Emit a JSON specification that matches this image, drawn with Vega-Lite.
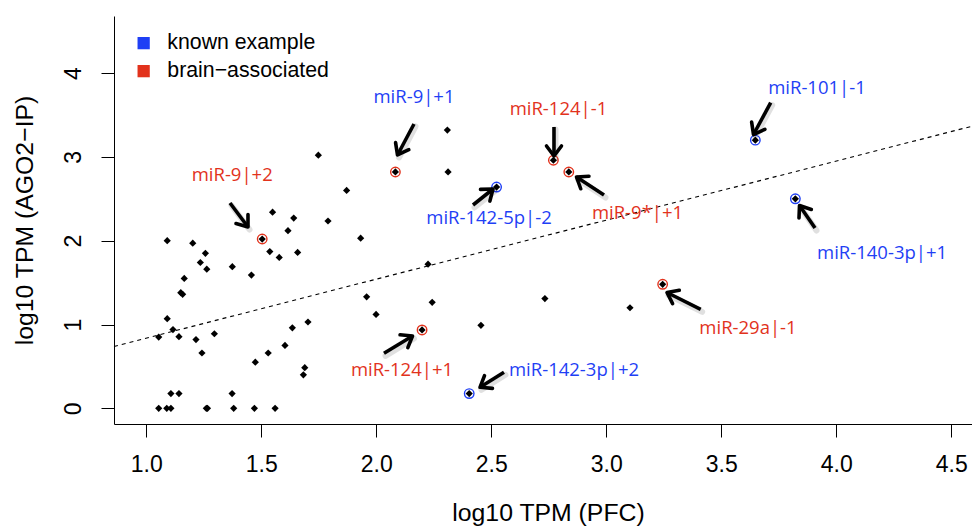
{
  "$schema": "https://vega.github.io/schema/vega-lite/v6.json",
  "width": 858,
  "height": 408,
  "autosize": "none",
  "padding": {"left": 114, "top": 16, "right": 0, "bottom": 102},
  "background": "white",
  "config": {
    "view": {"stroke": null},
    "axis": {
      "domainColor": "black", "domainWidth": 1, "tickColor": "black", "tickWidth": 1, "tickSize": 13,
      "labelColor": "black", "titleColor": "black", "labelFont": "Liberation Sans", "titleFont": "Liberation Sans",
      "labelFontSize": 23, "titleFontSize": 24.8, "titleFontWeight": "normal", "grid": false,
      "labelFlush": false, "labelOverlap": false
    },
    "legend": {"orient": "none", "legendX": 19, "legendY": 16.5, "title": null, "symbolType": "square",
      "symbolSize": 150, "symbolStrokeWidth": 0, "symbolOpacity": 1, "labelFont": "Liberation Sans", "labelFontSize": 21.3,
      "labelColor": "black", "rowPadding": 6, "labelOffset": 13, "padding": 0, "labelLimit": 400}
  },
  "datasets": {
    "pts": [
      {"x":1.748,"y":3.02},{"x":1.549,"y":2.34},{"x":1.641,"y":2.27},{"x":1.616,"y":2.12},{"x":1.504,"y":2.02},
      {"x":1.091,"y":2.00},{"x":1.202,"y":1.97},{"x":1.257,"y":1.85},{"x":1.537,"y":1.87},{"x":1.578,"y":1.80},
      {"x":1.658,"y":1.86},{"x":1.235,"y":1.74},{"x":1.263,"y":1.66},{"x":1.374,"y":1.69},{"x":1.457,"y":1.59},
      {"x":1.165,"y":1.55},{"x":1.150,"y":1.38},{"x":1.158,"y":1.36},{"x":1.091,"y":1.07},{"x":1.116,"y":0.94},
      {"x":1.054,"y":0.85},{"x":1.142,"y":0.855},{"x":1.216,"y":0.82},{"x":1.296,"y":0.89},{"x":1.242,"y":0.66},
      {"x":1.474,"y":0.55},{"x":1.530,"y":0.66},{"x":1.603,"y":0.75},{"x":1.635,"y":0.96},{"x":1.703,"y":1.03},
      {"x":1.689,"y":0.485},{"x":1.683,"y":0.40},{"x":1.107,"y":0.176},{"x":1.142,"y":0.176},{"x":1.373,"y":0.176},
      {"x":1.054,"y":0},{"x":1.089,"y":0},{"x":1.107,"y":0},{"x":1.261,"y":0},{"x":1.266,"y":0},
      {"x":1.380,"y":0},{"x":1.470,"y":0},{"x":1.560,"y":0},{"x":2.309,"y":3.32},{"x":2.083,"y":2.82},
      {"x":2.312,"y":2.82},{"x":1.871,"y":2.60},{"x":2.523,"y":2.64},{"x":1.790,"y":2.235},{"x":1.932,"y":2.03},
      {"x":2.225,"y":1.72},{"x":1.958,"y":1.33},{"x":2.243,"y":1.265},{"x":1.999,"y":1.12},{"x":2.199,"y":0.935},
      {"x":2.455,"y":0.99},{"x":2.733,"y":1.31},{"x":3.103,"y":1.20},{"x":2.404,"y":0.176},{"x":2.770,"y":2.96},
      {"x":2.837,"y":2.82},{"x":3.648,"y":3.20},{"x":3.822,"y":2.50},{"x":3.245,"y":1.48}
    ],
    "rings": [
      {"x":1.504,"y":2.02,"grp":"brain−associated"},
      {"x":2.083,"y":2.82,"grp":"brain−associated"},
      {"x":2.523,"y":2.64,"grp":"known example"},
      {"x":2.770,"y":2.96,"grp":"brain−associated"},
      {"x":2.837,"y":2.82,"grp":"brain−associated"},
      {"x":3.648,"y":3.20,"grp":"known example"},
      {"x":3.822,"y":2.50,"grp":"known example"},
      {"x":3.245,"y":1.48,"grp":"brain−associated"},
      {"x":2.199,"y":0.935,"grp":"brain−associated"},
      {"x":2.404,"y":0.176,"grp":"known example"}
    ],
    "arrows": [
      {"x":1.3639,"y":2.450,"x2":1.4422,"y2":2.1635,"angle":53.1},
      {"x":2.1639,"y":3.3926,"x2":2.0922,"y2":3.0227,"angle":118.0},
      {"x":2.4204,"y":2.426,"x2":2.5074,"y2":2.617,"angle":321.3},
      {"x":2.7726,"y":3.357,"x2":2.7726,"y2":3.0107,"angle":90},
      {"x":2.990,"y":2.545,"x2":2.8704,"y2":2.760,"angle":213.2},
      {"x":3.7148,"y":3.647,"x2":3.640,"y2":3.267,"angle":118.4},
      {"x":3.9074,"y":2.1516,"x2":3.840,"y2":2.420,"angle":235.4},
      {"x":3.4104,"y":1.1814,"x2":3.2639,"y2":1.3819,"angle":206.5},
      {"x":2.0335,"y":0.6563,"x2":2.1574,"y2":0.8628,"angle":328.7},
      {"x":2.5552,"y":0.4296,"x2":2.4509,"y2":0.2506,"angle":148.0}
    ],
    "labels": [
      {"x":1.3735,"y":2.784,"label":"miR-9|+2","grp":"brain−associated"},
      {"x":2.1639,"y":3.709,"label":"miR-9|+1","grp":"known example"},
      {"x":2.792,"y":3.566,"label":"miR-124|-1","grp":"brain−associated"},
      {"x":2.490,"y":2.265,"label":"miR-142-5p|-2","grp":"known example"},
      {"x":3.1357,"y":2.331,"label":"miR-9*|+1","grp":"brain−associated"},
      {"x":3.916,"y":3.819,"label":"miR-101|-1","grp":"known example"},
      {"x":4.199,"y":1.859,"label":"miR-140-3p|+1","grp":"known example"},
      {"x":3.616,"y":0.964,"label":"miR-29a|-1","grp":"brain−associated"},
      {"x":2.1117,"y":0.463,"label":"miR-124|+1","grp":"brain−associated"},
      {"x":2.8596,"y":0.463,"label":"miR-142-3p|+2","grp":"known example"}
    ],
    "fit": [{"x":0.8596,"y":0.7377,"x2":4.59,"y2":3.366}]
  },
  "layer": [
    {
      "data": {"name": "fit"},
      "mark": {"type": "rule", "stroke": "black", "strokeWidth": 1.1, "strokeDash": [4, 4]},
      "encoding": {
        "x": {"field": "x", "type": "quantitative", "scale": {"domain": [0.8596, 4.59], "nice": false, "zero": false},
          "axis": {"values": [1, 1.5, 2, 2.5, 3, 3.5, 4, 4.5], "format": ".1f", "title": "log10 TPM (PFC)",
            "labelPadding": 16, "titleBaseline": "alphabetic", "titleY": 96, "titleX": 434}},
        "y": {"field": "y", "type": "quantitative", "scale": {"domain": [-0.187, 4.681], "nice": false, "zero": false},
          "axis": {"values": [0, 1, 2, 3, 4], "format": "d", "title": "log10 TPM (AGO2−IP)",
            "labelAngle": -90, "labelAlign": "center", "labelBaseline": "alphabetic", "labelPadding": 21,
            "titleBaseline": "alphabetic", "titleX": -82, "titleAngle": -90}},
        "x2": {"field": "x2"},
        "y2": {"field": "y2"}
      }
    },
    {
      "data": {"name": "pts"},
      "mark": {"type": "point", "shape": "diamond", "filled": true, "fill": "black", "size": 52, "opacity": 1},
      "encoding": {
        "x": {"field": "x", "type": "quantitative"},
        "y": {"field": "y", "type": "quantitative"}
      }
    },
    {
      "data": {"name": "rings"},
      "mark": {"type": "point", "shape": "circle", "filled": false, "size": 90, "strokeWidth": 1.4, "opacity": 1},
      "encoding": {
        "x": {"field": "x", "type": "quantitative"},
        "y": {"field": "y", "type": "quantitative"},
        "color": {"field": "grp", "type": "nominal",
          "scale": {"domain": ["known example", "brain−associated"], "range": ["#1f3ff5", "#e2321c"]}}
      }
    },
    {
      "data": {"name": "arrows"},
      "mark": {"type": "rule", "stroke": "black", "strokeWidth": 6, "opacity": 0.12, "xOffset": 1.5, "yOffset": 2.5, "x2Offset": 1.5, "y2Offset": 2.5, "strokeCap": "round"},
      "encoding": {
        "x": {"field": "x", "type": "quantitative"},
        "y": {"field": "y", "type": "quantitative"},
        "x2": {"field": "x2"},
        "y2": {"field": "y2"}
      }
    },
    {
      "data": {"name": "arrows"},
      "mark": {"type": "rule", "stroke": "black", "strokeWidth": 3.6, "strokeCap": "butt"},
      "encoding": {
        "x": {"field": "x", "type": "quantitative"},
        "y": {"field": "y", "type": "quantitative"},
        "x2": {"field": "x2"},
        "y2": {"field": "y2"}
      }
    },
    {
      "data": {"name": "arrows"},
      "mark": {"type": "point", "shape": "M-1,-0.75L0,0L-1,0.75", "filled": false, "size": 400, "stroke": "black",
        "strokeWidth": 3.6, "strokeJoin": "round", "strokeCap": "round", "opacity": 1},
      "encoding": {
        "x": {"field": "x2", "type": "quantitative"},
        "y": {"field": "y2", "type": "quantitative"},
        "angle": {"field": "angle", "type": "quantitative", "scale": null}
      }
    },
    {
      "data": {"name": "labels"},
      "mark": {"type": "text", "font": "Open Sans", "fontSize": 18.5, "align": "center", "baseline": "middle"},
      "encoding": {
        "x": {"field": "x", "type": "quantitative"},
        "y": {"field": "y", "type": "quantitative"},
        "text": {"field": "label"},
        "color": {"field": "grp", "type": "nominal"}
      }
    }
  ]
}
